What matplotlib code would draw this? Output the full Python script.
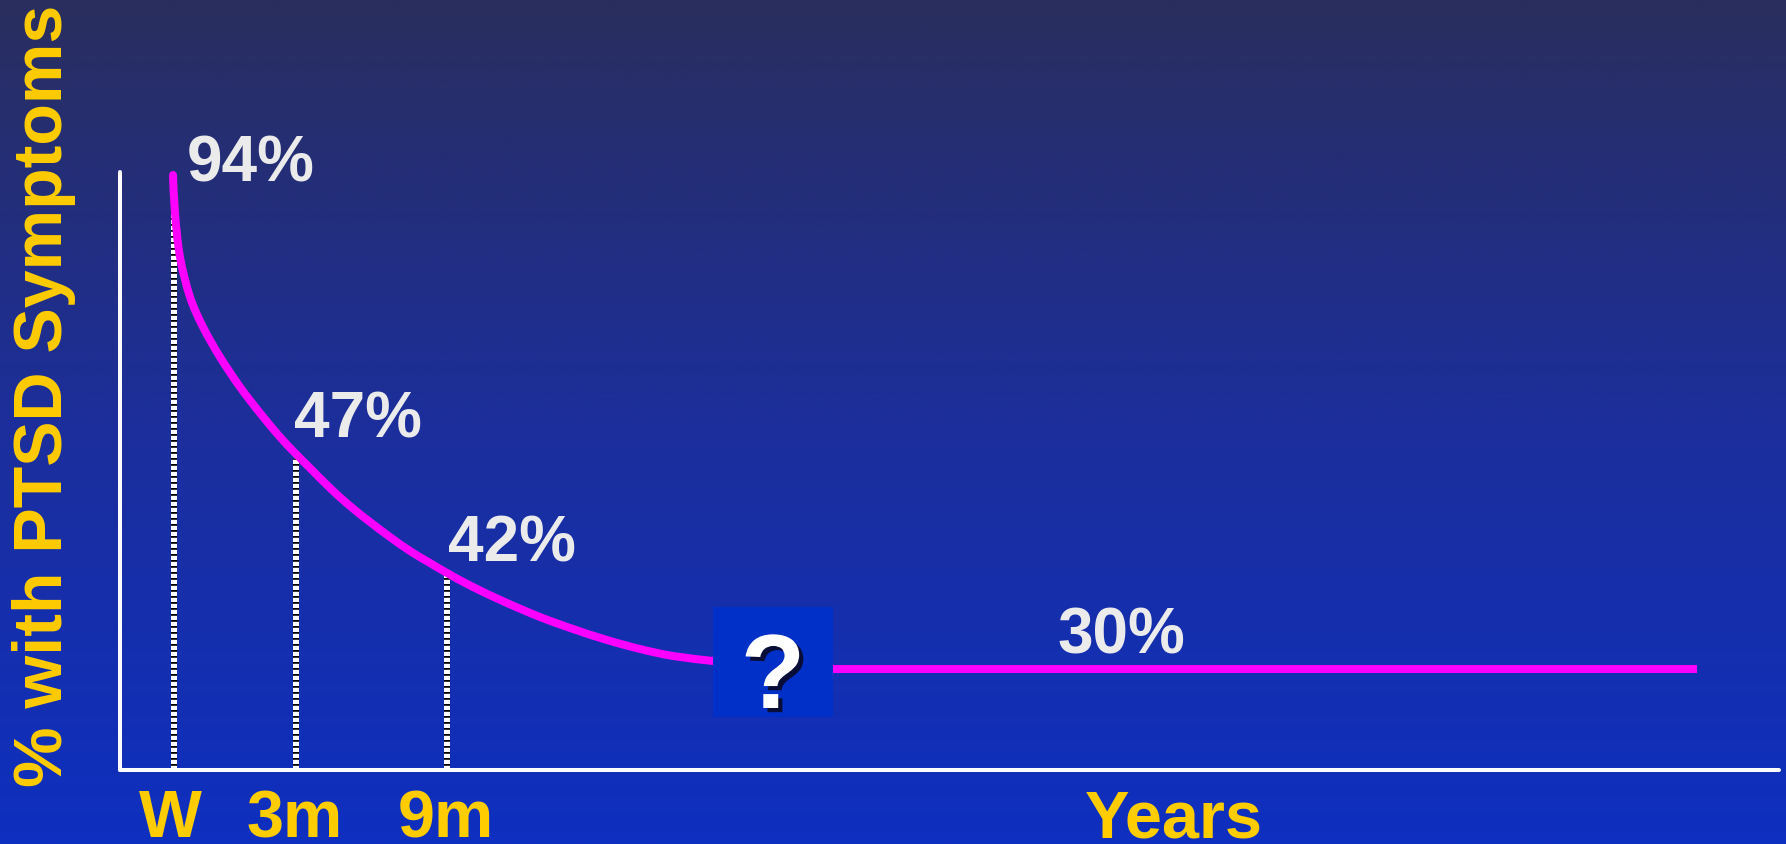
import numpy as np
import matplotlib
matplotlib.use("Agg")
import matplotlib.pyplot as plt
import matplotlib.patheffects as pe
from matplotlib.patches import Rectangle, PathPatch
from matplotlib.path import Path

# ---------------- data (plotted units) ----------------
# horizontal position along the time axis, vertical = plotted curve height
curve_x = [53, 55, 60, 70, 83, 100, 120, 140, 160, 176, 190, 210, 230, 250,
           270, 290, 310, 327, 353, 387, 420, 453, 487, 520, 553, 593]
curve_y = [595, 557, 513, 473, 443, 413, 383, 357, 333, 316, 302, 282, 264, 248,
           233, 219, 207, 197, 183, 167, 153, 141, 130, 121, 114, 109]

plateau_x = [713, 1577]
plateau_y = [101, 101]

marker_x = [54, 176, 327]          # W, 3m, 9m
marker_top = [584, 311, 194]

pct_labels = ["94%", "47%", "42%", "30%"]
pct_x = [67, 174, 328, 937]
pct_y = [588, 332, 208, 116]

tick_labels = ["W", "3m", "9m", "Years"]
tick_x = [50, 175, 326, 1054]

unknown_box = (593, 53, 120, 110)   # x, y, width, height
unknown_label = "?"

ylabel = "% with PTSD Symptoms"

# ---------------- figure ----------------
W, H = 1786, 844
fig = plt.figure(figsize=(W / 100, H / 100), dpi=100)

# gradient background
bg = fig.add_axes([0, 0, 1, 1], zorder=-10)
t = np.linspace(0, 1, 400)[:, None]
top = np.array([42, 46, 94]) / 255
mid = np.array([28, 46, 155]) / 255
bot = np.array([14, 48, 192]) / 255
grad = np.where(t < 0.5, top + (mid - top) * (t / 0.5), mid + (bot - mid) * ((t - 0.5) / 0.5))
grad = np.repeat(grad[:, None, :], 2, axis=1).reshape(400, 2, 3)
bg.imshow(grad, aspect="auto", extent=[0, 1, 0, 1], origin="upper")
bg.axis("off")

left_px, right_px, top_px, bottom_px = 120, 1779, 172, 770
ax = fig.add_axes([left_px / W, (H - bottom_px) / H,
                   (right_px - left_px) / W, (bottom_px - top_px) / H])
ax.set_facecolor("none")
ax.set_xlim(0, right_px - left_px)
ax.set_ylim(0, bottom_px - top_px)
for s in ["top", "right"]:
    ax.spines[s].set_visible(False)
for s in ["left", "bottom"]:
    ax.spines[s].set_color("white")
    ax.spines[s].set_linewidth(2.9)
    ax.spines[s].set_capstyle("round")
ax.set_xticks([])
ax.set_yticks([])

px = 72 / 100  # points per pixel

# dashed drop lines
plt.rcParams["lines.scale_dashes"] = False
for x, ytop in zip(marker_x, marker_top):
    ax.plot([x, x], [0, ytop], color="black", lw=6 * px, solid_capstyle="butt", zorder=2)
    ax.plot([x, x], [0, ytop], color="white", lw=6 * px, dashes=(4.2 * px, 1.8 * px),
            dash_capstyle="butt", zorder=3)

# smooth curve through the read points (Catmull-Rom rendered as cubic Bezier path)
P = np.column_stack([curve_x, curve_y]).astype(float)
verts = [P[0]]
codes = [Path.MOVETO]
for i in range(len(P) - 1):
    p0 = P[i - 1] if i > 0 else P[i]
    p1, p2 = P[i], P[i + 1]
    p3 = P[i + 2] if i + 2 < len(P) else P[i + 1]
    c1 = p1 + (p2 - p0) / 6
    c2 = p2 - (p3 - p1) / 6
    verts += [c1, c2, p2]
    codes += [Path.CURVE4] * 3
ax.add_patch(PathPatch(Path(verts, codes), facecolor="none", edgecolor="#FF00FF",
                       lw=8 * px, capstyle="round", joinstyle="round", zorder=4, clip_on=False))
ax.plot(plateau_x, plateau_y, color="#FF00FF", lw=8 * px, solid_capstyle="butt", zorder=4)

# unknown box
bx, by, bw, bh = unknown_box
ax.add_patch(Rectangle((bx, by), bw, bh, facecolor="#0030C8", edgecolor="none", zorder=5))
ax.text(bx + bw / 2, 62, unknown_label, ha="center", va="baseline",
        fontsize=76, fontweight="bold", family="Liberation Sans", color="white", zorder=6,
        path_effects=[pe.withSimplePatchShadow(offset=(3, -3), shadow_rgbFace="#0A0A28", alpha=0.9)])

# percentage labels
for lab, x, y in zip(pct_labels, pct_x, pct_y):
    ax.text(x, y, lab, ha="left", va="baseline", fontsize=46, fontweight="bold",
            family="Liberation Sans", color="#EBEBEB", zorder=6)

# x labels
for lab, x in zip(tick_labels, tick_x):
    ax.text(x, -67, lab, ha="center", va="baseline", fontsize=48, fontweight="bold",
            family="Liberation Sans", color="#FFCC00", clip_on=False)

# y label
fig.text(44 / W, 1 - 396 / H, ylabel, rotation=90, ha="center", va="center",
         fontsize=49, fontweight="bold", family="Liberation Sans", color="#FFCC00")

fig.savefig("out.png", dpi=100)
